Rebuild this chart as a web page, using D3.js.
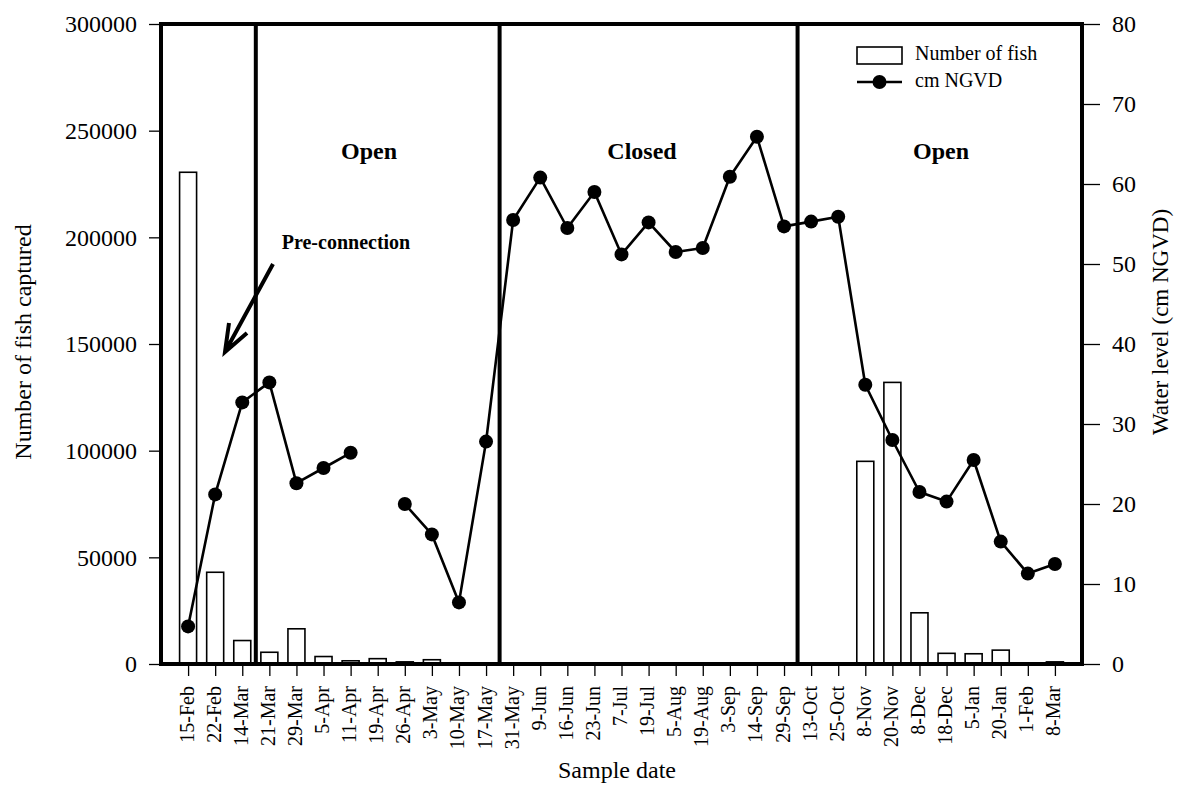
<!DOCTYPE html>
<html>
<head>
<meta charset="utf-8">
<script src="https://cdn.jsdelivr.net/npm/d3@7"></script>
<style>
  html, body { margin: 0; padding: 0; background: #fff; }
  svg { display: block; font-family: "Liberation Serif", "Times New Roman", serif; }
</style>
</head>
<body>
<svg id="chart" width="1189" height="789"></svg>
<script>
// Sample dates (categories)
const sampleDates = [
  "15-Feb", "22-Feb", "14-Mar", "21-Mar", "29-Mar", "5-Apr", "11-Apr", "19-Apr",
  "26-Apr", "3-May", "10-May", "17-May", "31-May", "9-Jun", "16-Jun", "23-Jun",
  "7-Jul", "19-Jul", "5-Aug", "19-Aug", "3-Sep", "14-Sep", "29-Sep", "13-Oct",
  "25-Oct", "8-Nov", "20-Nov", "8-Dec", "18-Dec", "5-Jan", "20-Jan", "1-Feb", "8-Mar"
];

// Number of fish captured per sample
const fishCaptured = [
  230500, 43000, 11000, 5500, 16500, 3500, 1500, 2500,
  1000, 2000, 500, 0, 0, 0, 0, 0,
  0, 0, 0, 0, 0, 0, 0, 0,
  0, 95000, 132000, 24000, 5000, 4800, 6500, 500, 1000
];

// Water level, cm NGVD (null = not measured)
const waterLevel = [
  4.7, 21.2, 32.7, 35.2, 22.6, 24.5, 26.4, null,
  20.0, 16.2, 7.7, 27.8, 55.5, 60.8, 54.5, 59.0,
  51.2, 55.2, 51.5, 52.0, 60.9, 65.9, 54.7, 55.3,
  55.9, 34.9, 28.0, 21.5, 20.3, 25.5, 15.3, 11.3, 12.5
];

// Tick values for both vertical axes
const fishTicks = [0, 50000, 100000, 150000, 200000, 250000, 300000];
const levelTicks = [0, 10, 20, 30, 40, 50, 60, 70, 80];

// Period boundaries (drawn between these consecutive dates) and period labels
const periodBreaks = [["14-Mar", "21-Mar"], ["17-May", "31-May"], ["29-Sep", "13-Oct"]];
const periodLabels = [
  { text: "Open", cx: 369 },
  { text: "Closed", cx: 642 },
  { text: "Open", cx: 941 }
];

const svg = d3.select("#chart");
const plot = { left: 161, right: 1082, top: 24, bottom: 664 };

const x = d3.scalePoint().domain(sampleDates).range([plot.left, plot.right]).padding(1);
const yFish = d3.scaleLinear().domain([0, 300000]).range([plot.bottom, plot.top]);
const yLevel = d3.scaleLinear().domain([0, 80]).range([plot.bottom, plot.top]);

const ink = "#000";

// Bars: number of fish
const barW = 17;
svg.append("g")
  .selectAll("rect")
  .data(sampleDates.map((d, i) => ({ d, v: fishCaptured[i] })).filter(o => o.v > 0))
  .join("rect")
  .attr("x", o => x(o.d) - barW / 2)
  .attr("y", o => yFish(o.v))
  .attr("width", barW)
  .attr("height", o => yFish(0) - yFish(o.v))
  .attr("fill", "#fff")
  .attr("stroke", ink)
  .attr("stroke-width", 1.6);

// Period dividers
svg.append("g")
  .selectAll("line")
  .data(periodBreaks)
  .join("line")
  .attr("x1", p => (x(p[0]) + x(p[1])) / 2)
  .attr("x2", p => (x(p[0]) + x(p[1])) / 2)
  .attr("y1", plot.top)
  .attr("y2", plot.bottom)
  .attr("stroke", ink)
  .attr("stroke-width", 4);

// Water level line and markers
const levelPts = sampleDates.map((d, i) => ({ d, v: waterLevel[i] }));
const line = d3.line()
  .defined(o => o.v !== null)
  .x(o => x(o.d))
  .y(o => yLevel(o.v));

svg.append("path")
  .datum(levelPts)
  .attr("d", line)
  .attr("fill", "none")
  .attr("stroke", ink)
  .attr("stroke-width", 2.6)
  .attr("stroke-linejoin", "round");

svg.append("g")
  .selectAll("circle")
  .data(levelPts.filter(o => o.v !== null))
  .join("circle")
  .attr("cx", o => x(o.d))
  .attr("cy", o => yLevel(o.v))
  .attr("r", 7)
  .attr("fill", ink);

// Plot frame
svg.append("rect")
  .attr("x", plot.left)
  .attr("y", plot.top)
  .attr("width", plot.right - plot.left)
  .attr("height", plot.bottom - plot.top)
  .attr("fill", "none")
  .attr("stroke", ink)
  .attr("stroke-width", 4);

// Left axis
const leftAxis = svg.append("g")
  .attr("transform", `translate(${plot.left},0)`)
  .call(d3.axisLeft(yFish).tickValues(fishTicks).tickFormat(d3.format("d")).tickSize(12).tickPadding(12));
leftAxis.select(".domain").remove();
leftAxis.selectAll("line").attr("stroke", ink).attr("stroke-width", 1.3);
leftAxis.selectAll("text").attr("font-size", 24).attr("font-family", "Liberation Serif").attr("fill", ink);

// Right axis
const rightAxis = svg.append("g")
  .attr("transform", `translate(${plot.right},0)`)
  .call(d3.axisRight(yLevel).tickValues(levelTicks).tickSize(18).tickPadding(12));
rightAxis.select(".domain").remove();
rightAxis.selectAll("line").attr("stroke", ink).attr("stroke-width", 1.3);
rightAxis.selectAll("text").attr("font-size", 24).attr("font-family", "Liberation Serif").attr("fill", ink);

// Bottom axis with rotated date labels
const bottomAxis = svg.append("g")
  .attr("transform", `translate(0,${plot.bottom})`)
  .call(d3.axisBottom(x).tickSize(12));
bottomAxis.select(".domain").remove();
bottomAxis.selectAll("line").attr("stroke", ink).attr("stroke-width", 1.3);
bottomAxis.selectAll("text")
  .attr("transform", "rotate(-90)")
  .attr("x", -22)
  .attr("y", 0)
  .attr("dy", "0.25em")
  .attr("text-anchor", "end")
  .attr("font-size", 20)
  .attr("font-family", "Liberation Serif")
  .attr("fill", ink);

// Axis titles
svg.append("text")
  .attr("transform", "translate(31,342) rotate(-90)")
  .attr("text-anchor", "middle")
  .attr("font-size", 24)
  .text("Number of fish captured");

svg.append("text")
  .attr("transform", "translate(1168,322) rotate(-90)")
  .attr("text-anchor", "middle")
  .attr("font-size", 23)
  .text("Water level (cm NGVD)");

svg.append("text")
  .attr("x", 617)
  .attr("y", 778)
  .attr("text-anchor", "middle")
  .attr("font-size", 24)
  .text("Sample date");

// Period labels
svg.append("g")
  .selectAll("text")
  .data(periodLabels)
  .join("text")
  .attr("x", o => o.cx)
  .attr("y", 159)
  .attr("text-anchor", "middle")
  .attr("font-size", 24)
  .attr("font-weight", "bold")
  .text(o => o.text);

// Pre-connection annotation with arrow
svg.append("text")
  .attr("x", 346)
  .attr("y", 249)
  .attr("text-anchor", "middle")
  .attr("font-size", 20)
  .attr("font-weight", "bold")
  .text("Pre-connection");

const tail = [273, 264], tip = [225, 352];
svg.append("path")
  .attr("d", `M${tail[0]},${tail[1]}L${tip[0]},${tip[1]}M${tip[0] + 4},${tip[1] - 29}L${tip[0]},${tip[1]}L${tip[0] + 22},${tip[1] - 19}`)
  .attr("fill", "none")
  .attr("stroke", ink)
  .attr("stroke-width", 4)
  .attr("stroke-linecap", "butt");

// Legend
const legend = svg.append("g").attr("transform", "translate(857,47)");
legend.append("rect")
  .attr("x", 0).attr("y", 0).attr("width", 45).attr("height", 17)
  .attr("fill", "#fff").attr("stroke", ink).attr("stroke-width", 1.6);
legend.append("text").attr("x", 58).attr("y", 13).attr("font-size", 20).text("Number of fish");
legend.append("line")
  .attr("x1", 0).attr("x2", 45).attr("y1", 35).attr("y2", 35)
  .attr("stroke", ink).attr("stroke-width", 2.6);
legend.append("circle").attr("cx", 22.5).attr("cy", 35).attr("r", 7).attr("fill", ink);
legend.append("text").attr("x", 58).attr("y", 40).attr("font-size", 20).text("cm NGVD");
</script>
</body>
</html>
